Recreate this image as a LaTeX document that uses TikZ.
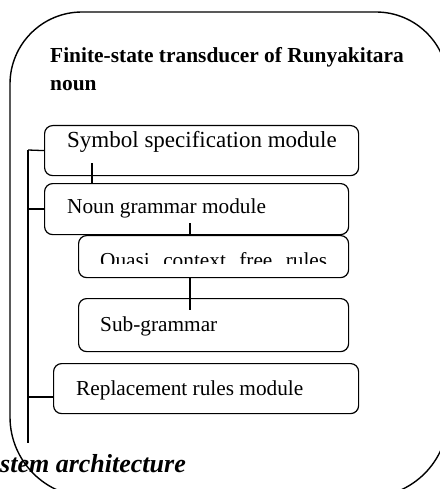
\documentclass[tikz,border=0pt]{standalone}
\usepackage{fontspec}
\setmainfont{Liberation Serif}
\begin{document}
\begin{tikzpicture}[x=1pt,y=-1pt,
  modbox/.style={draw,line width=1.2pt,rounded corners=8pt,anchor=north west,inner sep=0pt},
  modtext/.style={anchor=base west,inner sep=0pt,font=\fontsize{21.3}{25}\selectfont},
  link/.style={line width=1.3pt}]
\useasboundingbox (0,0) rectangle (439,489);
% outer container
\draw[line width=1.4pt] (10,250) [rounded corners=72pt] -- (10,12) -- (448,12) -- (448,250)
  [rounded corners=80pt] -- (448,497) -- (10,497) -- cycle;
% title
\node[anchor=base west,inner sep=0pt,font=\fontsize{21.4}{26}\selectfont\bfseries] (title1) at (50,63) {Finite-state transducer of Runyakitara};
\node[anchor=base west,inner sep=0pt,font=\fontsize{21.4}{26}\selectfont\bfseries] (title2) at (50,91) {noun};
% boxes
\node[modbox,minimum width=314pt,minimum height=50pt] (sym) at (44,125) {};
\node[modbox,minimum width=304pt,minimum height=51pt] (noun) at (44,183) {};
\node[modbox,minimum width=270pt,minimum height=42pt] (quasi) at (78,235) {};
\node[modbox,minimum width=270pt,minimum height=53pt] (sub) at (78,298) {};
\node[modbox,minimum width=305pt,minimum height=50pt] (repl) at (53,363) {};
% texts
\node[modtext,font=\fontsize{23}{27}\selectfont] (symt) at (67,147) {Symbol specification module};
\node[modtext] (nount) at (67,213) {Noun grammar module};
\begin{scope}
\clip (78,235) rectangle (348,263);
\node[modtext] (quasit) at (100,267) {\makebox[227pt][s]{Quasi context free rules}};
\end{scope}
\node[modtext] (subt) at (100,331) {Sub-grammar};
\node[modtext] (replt) at (76,395) {Replacement rules module};
% connectors
\coordinate (trtop) at (28,150);
\coordinate (trbot) at (28,443);
\coordinate (rb) at (28,397);
\draw[link] (trtop) -- (trbot);
\draw[link] (trtop) -- (sym.west);
\draw[link] (trtop |- noun.west) -- (noun.west);
\draw[link] (rb) -- (rb -| repl.west);
\coordinate (s1) at (92,163);
\draw[link] (s1) -- (s1 |- noun.north);
\coordinate (n1) at (190,223);
\draw[link] (n1) -- (n1 |- quasi.north);
\coordinate (q1) at (190,310);
\draw[link] (q1 |- quasi.south) -- (q1);
% caption fragment
\node[anchor=base east,inner sep=0pt,font=\fontsize{26}{30}\selectfont\bfseries\itshape] (cap) at (186,472) {stem architecture};
\end{tikzpicture}
\end{document}
